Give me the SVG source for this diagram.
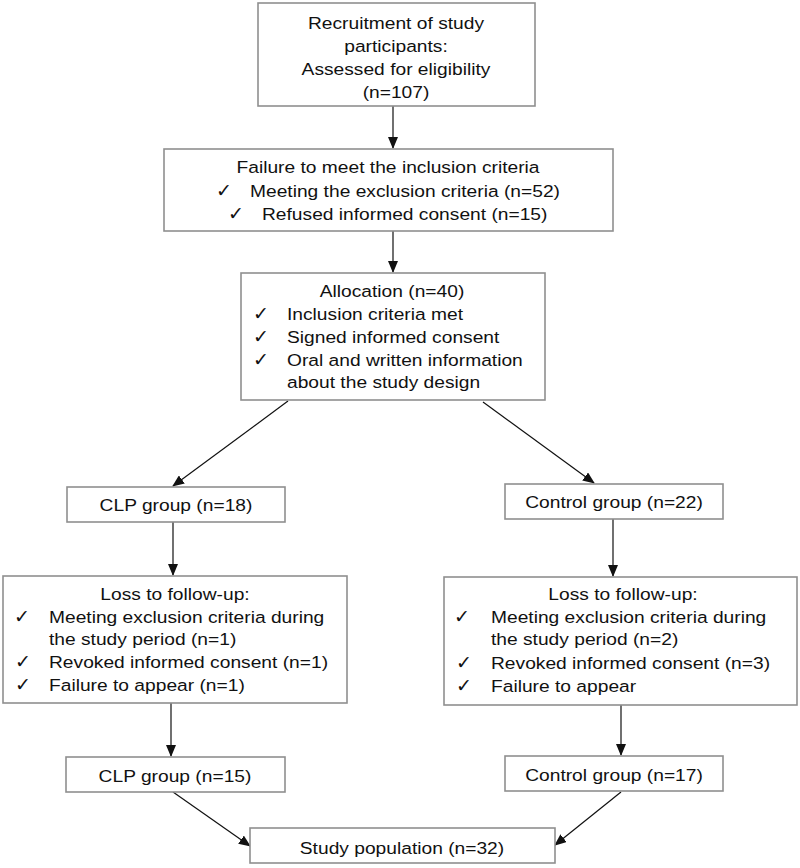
<svg xmlns="http://www.w3.org/2000/svg" width="800" height="868" viewBox="0 0 800 868">
<style>
.box{fill:#fff;stroke:#8f8f8f;stroke-width:1.6}
.t{font-family:"Liberation Sans",Arial,sans-serif;font-size:17px;fill:#111}
.m{text-anchor:middle}
.ck{font-family:"DejaVu Sans",sans-serif;font-size:19px;fill:#111}
.ln{stroke:#111;stroke-width:1.2;fill:none;marker-end:url(#ah)}
</style>
<defs>
<marker id="ah" markerUnits="userSpaceOnUse" markerWidth="12" markerHeight="10" refX="11" refY="5" orient="auto" viewBox="0 0 12 10">
<path d="M0,0 L12,5 L0,10 Z" fill="#111"/>
</marker>
</defs>
<rect width="800" height="868" fill="#fff"/>
<g id="connectors">
<line class="ln" x1="393" y1="106" x2="393" y2="148"/>
<line class="ln" x1="393" y1="231" x2="393" y2="272"/>
<line class="ln" x1="288" y1="401" x2="173" y2="486"/>
<line class="ln" x1="483" y1="402" x2="594" y2="483"/>
<line class="ln" x1="173" y1="522" x2="173" y2="575"/>
<line class="ln" x1="613" y1="519" x2="613" y2="576"/>
<line class="ln" x1="171" y1="703" x2="171" y2="756"/>
<line class="ln" x1="621" y1="705" x2="621" y2="755"/>
<line class="ln" x1="173" y1="792" x2="250" y2="846"/>
<line class="ln" x1="621" y1="792" x2="555" y2="845"/>
</g>
<g id="recruitment">
<rect class="box" x="258" y="3" width="277" height="103"/>
<text class="t m" transform="translate(396 29) scale(1.13 1)">Recruitment of study</text>
<text class="t m" transform="translate(396 52) scale(1.13 1)">participants:</text>
<text class="t m" transform="translate(396 75) scale(1.13 1)">Assessed for eligibility</text>
<text class="t m" transform="translate(396 98) scale(1.13 1)">(n=107)</text>
</g>
<g id="failure">
<rect class="box" x="164" y="149" width="449" height="82"/>
<text class="t m" transform="translate(388 173) scale(1.13 1)">Failure to meet the inclusion criteria</text>
<text class="ck" x="216" y="197">✓</text>
<text class="t" transform="translate(250 197) scale(1.13 1)">Meeting the exclusion criteria (n=52)</text>
<text class="ck" x="228" y="220">✓</text>
<text class="t" transform="translate(262 220) scale(1.13 1)">Refused informed consent (n=15)</text>
</g>
<g id="allocation">
<rect class="box" x="241" y="273" width="304" height="127"/>
<text class="t m" transform="translate(392 297) scale(1.13 1)">Allocation (n=40)</text>
<text class="ck" x="253" y="320">✓</text>
<text class="t" transform="translate(287 320) scale(1.13 1)">Inclusion criteria met</text>
<text class="ck" x="253" y="343">✓</text>
<text class="t" transform="translate(287 343) scale(1.13 1)">Signed informed consent</text>
<text class="ck" x="253" y="366">✓</text>
<text class="t" transform="translate(287 366) scale(1.13 1)">Oral and written information</text>
<text class="t" transform="translate(287 388) scale(1.13 1)">about the study design</text>
</g>
<g id="clp18">
<rect class="box" x="67" y="487" width="218" height="35"/>
<text class="t m" transform="translate(176 511) scale(1.13 1)">CLP group (n=18)</text>
</g>
<g id="control22">
<rect class="box" x="505" y="484" width="218" height="35"/>
<text class="t m" transform="translate(614 508) scale(1.13 1)">Control group (n=22)</text>
</g>
<g id="loss-clp">
<rect class="box" x="3" y="576" width="344" height="127"/>
<text class="t m" transform="translate(175 600) scale(1.13 1)">Loss to follow-up:</text>
<text class="ck" x="14" y="623">✓</text>
<text class="t" transform="translate(49 623) scale(1.13 1)">Meeting exclusion criteria during</text>
<text class="t" transform="translate(49 645) scale(1.13 1)">the study period (n=1)</text>
<text class="ck" x="15" y="668">✓</text>
<text class="t" transform="translate(49 668) scale(1.13 1)">Revoked informed consent (n=1)</text>
<text class="ck" x="15" y="691">✓</text>
<text class="t" transform="translate(49 691) scale(1.13 1)">Failure to appear (n=1)</text>
</g>
<g id="loss-control">
<rect class="box" x="444" y="577" width="353" height="128"/>
<text class="t m" transform="translate(623 600) scale(1.13 1)">Loss to follow-up:</text>
<text class="ck" x="454" y="623">✓</text>
<text class="t" transform="translate(491 623) scale(1.13 1)">Meeting exclusion criteria during</text>
<text class="t" transform="translate(491 645) scale(1.13 1)">the study period (n=2)</text>
<text class="ck" x="456" y="669">✓</text>
<text class="t" transform="translate(491 669) scale(1.13 1)">Revoked informed consent (n=3)</text>
<text class="ck" x="456" y="692">✓</text>
<text class="t" transform="translate(491 692) scale(1.13 1)">Failure to appear</text>
</g>
<g id="clp15">
<rect class="box" x="66" y="757" width="219" height="35"/>
<text class="t m" transform="translate(175 782) scale(1.13 1)">CLP group (n=15)</text>
</g>
<g id="control17">
<rect class="box" x="505" y="756" width="218" height="35"/>
<text class="t m" transform="translate(614 781) scale(1.13 1)">Control group (n=17)</text>
</g>
<g id="study">
<rect class="box" x="250" y="828" width="305" height="35"/>
<text class="t m" transform="translate(402 854) scale(1.13 1)">Study population (n=32)</text>
</g>
</svg>
